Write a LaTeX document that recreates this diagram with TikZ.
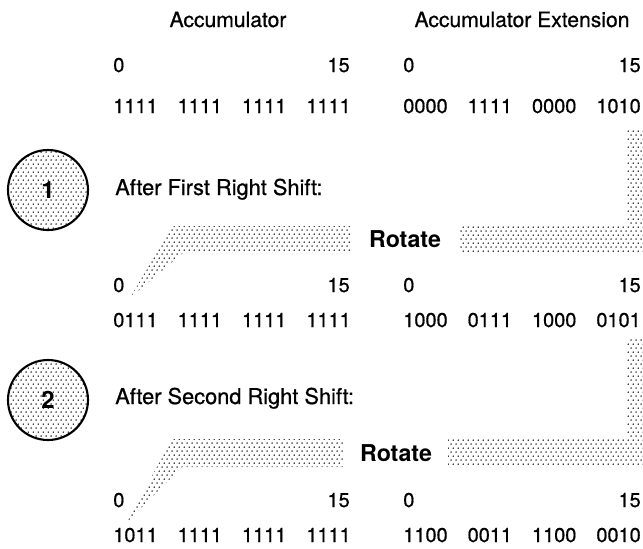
\documentclass[tikz,border=0pt]{standalone}
\usepackage{fontspec}
\setmainfont{TeX Gyre Heros}
\newfontfamily\medfont[FakeBold=0.7]{TeX Gyre Heros}
\usetikzlibrary{patterns.meta}

\tikzdeclarepattern{
  name=stipple, type=uncolored,
  bottom left={(0pt,0pt)}, top right={(3.6pt,5.6pt)},
  tile size={(3.6pt,5.6pt)},
  code={\fill (0.9pt,1.4pt) circle (0.6pt); \fill (2.7pt,4.2pt) circle (0.6pt);}
}

\begin{document}
\begin{tikzpicture}[
    title/.style={font=\medfont\fontsize{15}{18}\selectfont, inner sep=0pt, anchor=base},
    note/.style={font=\medfont\fontsize{15.5}{18}\selectfont, inner sep=0pt, anchor=base west},
    bits/.style={font=\medfont\fontsize{14.2}{17}\selectfont, inner sep=0pt, anchor=base west},
    idx/.style={font=\medfont\fontsize{14.2}{17}\selectfont, inner sep=0pt},
    rot/.style={font=\fontsize{16.5}{19}\selectfont\bfseries, inner sep=0pt, anchor=base},
    band/.style={pattern=stipple, pattern color=black},
    stepmark/.style={circle, draw=black, line width=1.5pt, pattern=stipple, pattern color=black,
        minimum size=2cm, inner sep=0pt, font=\fontsize{17}{20}\selectfont\bfseries}
]
    \useasboundingbox (0,0) rectangle (16.075,-13.7);

    \node[title] (acc) at (5.7,-0.675) {Accumulator};
    \node[title] (ext) at (13.05,-0.675) {Accumulator Extension};

    \node[idx, anchor=base west] (a0l) at (2.825,-1.8) {0};
    \node[idx, anchor=base east] (a0r) at (8.75,-1.8) {15};
    \node[idx, anchor=base west] (e0l) at (10.075,-1.8) {0};
    \node[idx, anchor=base east] (e0r) at (16.025,-1.8) {15};
    \node[bits] (a0) at (2.825,-2.825) {1111\quad 1111\quad 1111\quad 1111};
    \node[bits] (e0) at (10.075,-2.825) {0000\quad 1111\quad 0000\quad 1010};

    \node[stepmark] (s1) at (1.2,-4.75) {1};
    \node[note] (t1) at (2.875,-4.875) {After First Right Shift:};
    \fill[band] (3.25,-7.45) -- (4.3,-5.65) -- (8.75,-5.65) -- (8.75,-6.325) -- (4.575,-6.325) -- cycle;
    \fill[band] (11.475,-5.65) -- (15.675,-5.65) -- (15.675,-3.2) -- (16.075,-3.2)
        -- (16.075,-6.325) -- (11.475,-6.325) -- cycle;
    \node[rot] (r1) at (10.125,-6.175) {Rotate};

    \node[idx, anchor=base west] (a1l) at (2.825,-7.3) {0};
    \node[idx, anchor=base east] (a1r) at (8.75,-7.3) {15};
    \node[idx, anchor=base west] (e1l) at (10.075,-7.3) {0};
    \node[idx, anchor=base east] (e1r) at (16.025,-7.3) {15};
    \node[bits] (a1) at (2.825,-8.175) {0111\quad 1111\quad 1111\quad 1111};
    \node[bits] (e1) at (10.075,-8.175) {1000\quad 0111\quad 1000\quad 0101};

    \node[stepmark] (s2) at (1.2,-10) {2};
    \node[note] (t2) at (2.875,-10.1) {After Second Right Shift:};
    \fill[band] (3.175,-13.05) -- (4.3,-10.975) -- (8.575,-10.975) -- (8.575,-11.675) -- (4.55,-11.675) -- cycle;
    \fill[band] (11.2,-10.975) -- (15.675,-10.975) -- (15.675,-8.425) -- (16.075,-8.425)
        -- (16.075,-11.675) -- (11.2,-11.675) -- cycle;
    \node[rot] (r2) at (9.9,-11.525) {Rotate};

    \node[idx, anchor=base west] (a2l) at (2.825,-12.675) {0};
    \node[idx, anchor=base east] (a2r) at (8.75,-12.675) {15};
    \node[idx, anchor=base west] (e2l) at (10.075,-12.675) {0};
    \node[idx, anchor=base east] (e2r) at (16.025,-12.675) {15};
    \node[bits] (a2) at (2.825,-13.55) {1011\quad 1111\quad 1111\quad 1111};
    \node[bits] (e2) at (10.075,-13.55) {1100\quad 0011\quad 1100\quad 0010};
\end{tikzpicture}
\end{document}
